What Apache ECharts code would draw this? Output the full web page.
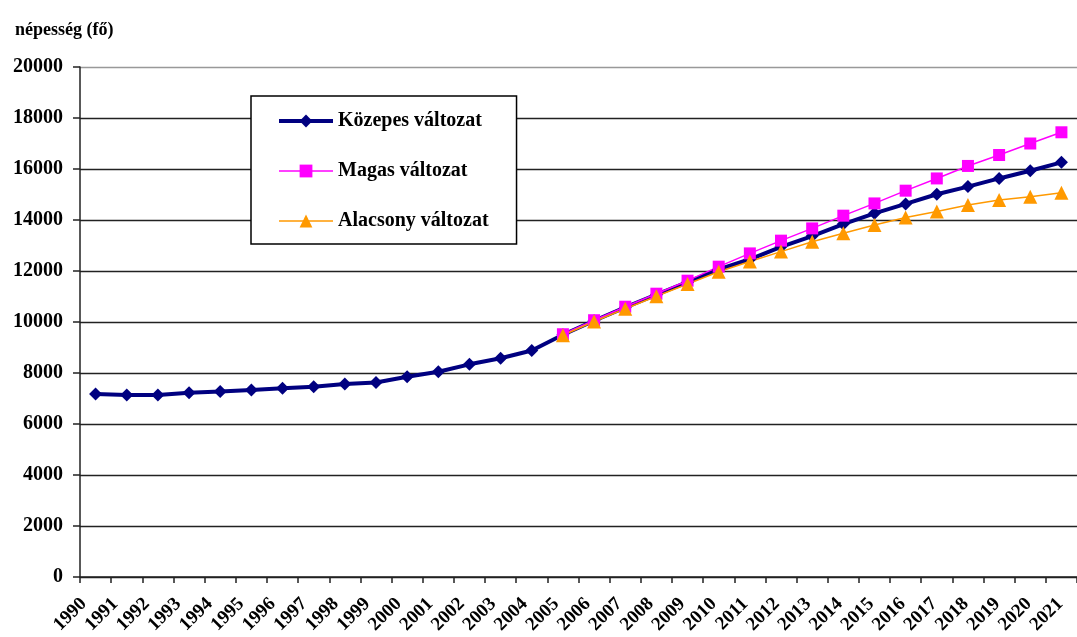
<!DOCTYPE html>
<html>
<head>
<meta charset="utf-8">
<script src="https://cdn.jsdelivr.net/npm/echarts@6/dist/echarts.min.js"></script>
<style>
html,body{margin:0;padding:0;background:#fff;}
#chart{width:1077px;height:637px;}
</style>
</head>
<body>
<div id="chart"></div>
<script>
const years = ['1990','1991','1992','1993','1994','1995','1996','1997','1998','1999','2000','2001','2002','2003','2004','2005','2006','2007','2008','2009','2010','2011','2012','2013','2014','2015','2016','2017','2018','2019','2020','2021'];
const kozepes = [7180,7140,7140,7230,7270,7330,7400,7460,7570,7630,7850,8050,8340,8580,8880,9500,10050,10570,11070,11560,12060,12460,12950,13370,13840,14260,14630,15010,15310,15630,15930,16260];
const magas = [null,null,null,null,null,null,null,null,null,null,null,null,null,null,null,9520,10070,10600,11110,11620,12170,12690,13190,13670,14170,14650,15150,15630,16120,16550,17000,17440];
const alacsony = [null,null,null,null,null,null,null,null,null,null,null,null,null,null,null,9480,10020,10520,11010,11490,11970,12370,12760,13150,13480,13800,14100,14330,14590,14780,14910,15070];
const seriesNames = ['Közepes változat','Magas változat','Alacsony változat'];
const yName = 'népesség (fő)';

const font = 'Liberation Serif';
const chart = echarts.init(document.getElementById('chart'));
const splitColors = ['#222','#222','#222','#222','#222','#222','#222','#222','#222','#222','#999'];
chart.setOption({
  animation:false,
  backgroundColor:'#fff',
  title:{text:yName,left:10,top:16,textStyle:{fontFamily:font,fontWeight:'bold',fontSize:18,color:'#000'}},
  legend:{
    orient:'vertical',left:251,top:96,
    padding:[15,28,13,26],
    itemWidth:54,itemHeight:16,itemGap:30,
    backgroundColor:'#fff',borderColor:'#000',borderWidth:1.5,
    textStyle:{fontFamily:font,fontWeight:'bold',fontSize:20,color:'#000',lineHeight:20},
    data:[
      {name:seriesNames[0],lineStyle:{width:4}},
      {name:seriesNames[1],lineStyle:{width:1.5}},
      {name:seriesNames[2],lineStyle:{width:1.5}}
    ]
  },
  grid:[
    {left:80,top:67,bottom:60,width:1008,containLabel:false},
    {left:68,top:67,bottom:60,width:1008,containLabel:false}
  ],
  xAxis:[{
    type:'category',data:years,boundaryGap:true,gridIndex:0,
    axisLine:{lineStyle:{color:'#222',width:1.5}},
    axisTick:{show:true,interval:0,length:6,lineStyle:{color:'#222',width:1.5}},
    axisLabel:{show:false,interval:0},
    splitLine:{show:false}
  },{
    type:'category',data:years,boundaryGap:true,gridIndex:1,
    axisLine:{show:false},axisTick:{show:false},
    axisLabel:{rotate:45,interval:0,margin:24,fontFamily:font,fontWeight:'bold',fontSize:19,color:'#000'},
    splitLine:{show:false}
  }],
  yAxis:[{
    type:'value',min:0,max:20000,interval:2000,gridIndex:0,
    axisLine:{show:true,lineStyle:{color:'#222',width:1.5}},
    axisTick:{show:true,length:7,lineStyle:{color:'#222',width:1.5}},
    axisLabel:{margin:17,fontFamily:font,fontWeight:'bold',fontSize:20,color:'#000',formatter:v=>String(v)},
    splitLine:{show:true,lineStyle:{color:splitColors,width:1.3}}
  },{
    type:'value',min:0,max:1,gridIndex:1,show:false
  }],
  series:[
    {name:seriesNames[0],type:'line',data:kozepes,symbol:'diamond',symbolSize:[13,13],
     itemStyle:{color:'#000080'},lineStyle:{color:'#000080',width:4},connectNulls:false},
    {name:seriesNames[1],type:'line',data:magas,symbol:'rect',symbolSize:12,
     itemStyle:{color:'#ff00ff'},lineStyle:{color:'#ff00ff',width:1.5}},
    {name:seriesNames[2],type:'line',data:alacsony,symbol:'triangle',symbolSize:14,
     itemStyle:{color:'#ff9900'},lineStyle:{color:'#ff9900',width:1.5}}
  ]
});
</script>
</body>
</html>
